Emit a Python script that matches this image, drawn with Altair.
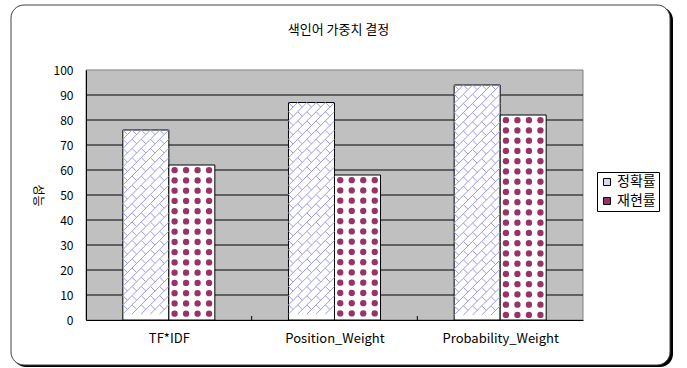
import json
import altair as alt
import pandas as pd

# ---------------- data ----------------
categories = ["TF*IDF", "Position_Weight", "Probability_Weight"]
series = ["정확률", "재현률"]
precision = [76, 87, 94]
recall = [62, 58, 82]
y_ticks = [0, 10, 20, 30, 40, 50, 60, 70, 80, 90, 100]
title_text = "색인어 가중치 결정"
y_title = "성능"

# ---------------- style ----------------
W, H = 497, 250
PAD = {"left": 86, "top": 70, "right": 104, "bottom": 48}
FONT = "Noto Sans CJK KR"
BW = 0.2777          # bar width in category units
NX_P, DY_P = 5, 3.68  # hatch tiles
NX_R, DY_R = 4, 4.1   # dot tiles
LAV = "#9999EE"
MAROON = "#993366"

rows = []
for i, c in enumerate(categories):
    rows.append({"cat": c, "idx": i, "series": series[0], "sidx": 0, "value": precision[i]})
    rows.append({"cat": c, "idx": i, "series": series[1], "sidx": 1, "value": recall[i]})
df = pd.DataFrame(rows)

xscale = alt.Scale(domain=[0, len(categories)], nice=False, zero=False)
yscale = alt.Scale(domain=[y_ticks[0], y_ticks[-1]], nice=False)
label_expr = json.dumps(categories) + "[floor(datum.value)]"
xaxis = alt.Axis(values=[i + 0.5 for i in range(len(categories))], labelExpr=label_expr,
                 ticks=False, grid=False, domainColor="black", labelPadding=12,
                 labelFont=FONT, labelFontSize=13, labelColor="black", zindex=1, title=None)
yaxis = alt.Axis(values=y_ticks, ticks=False, grid=False, domainColor="black", labelPadding=13,
                 labelFont=FONT, labelFontSize=12, labelColor="black", zindex=1,
                 title=y_title, titleAngle=90, titleFont=FONT, titleFontSize=12,
                 titleFontWeight="normal", titleColor="black",
                 titleX=-49, titleY=H / 2, titleAlign="center", titleBaseline="middle")

def X(f):
    return alt.X(f, type="quantitative", scale=xscale, axis=xaxis)

def Y(f):
    return alt.Y(f, type="quantitative", scale=yscale, axis=yaxis)

one = pd.DataFrame({"k": [0]})

shadow = alt.Chart(one).mark_rect(fill="black", cornerRadius=13).encode(
    x=alt.value(-73), x2=alt.value(587), y=alt.value(-63), y2=alt.value(297))
frame = alt.Chart(one).mark_rect(fill="white", stroke="#404040", strokeWidth=1, cornerRadius=13).encode(
    x=alt.value(-75), x2=alt.value(584), y=alt.value(-65), y2=alt.value(295))
title = alt.Chart(one).mark_text(text=title_text, font=FONT, fontSize=13, color="black",
                                 align="center", baseline="middle").encode(
    x=alt.value(W / 2 + 4), y=alt.value(-40))
plotbg = alt.Chart(one).mark_rect(fill="#C0C0C0", stroke="#808080", strokeWidth=1).encode(
    x=alt.value(0), x2=alt.value(W), y=alt.value(0), y2=alt.value(H))

grid = alt.Chart(pd.DataFrame({"t": y_ticks[1:-1]})).mark_rule(color="black", strokeWidth=1).encode(
    x=alt.value(0), x2=alt.value(W), y=Y("t:Q"))

base = alt.Chart(df).transform_calculate(
    x0=f"datum.idx + 0.5 + (datum.sidx - 1) * {BW}",
    x1=f"datum.idx + 0.5 + datum.sidx * {BW}",
    zero="0",
)

bars = base.mark_rect(fill="white", stroke="black", strokeWidth=1).encode(
    x=X("x0:Q"), x2="x1:Q", y=Y("zero:Q"), y2="value:Q")

hatch = base.transform_filter("datum.sidx == 0").transform_calculate(
    col=f"sequence(0, {NX_P})").transform_flatten(["col"]).transform_calculate(
    row="sequence(0, 40)").transform_flatten(["row"]).transform_calculate(
    px=f"datum.x0 + (datum.col + 0.5) * {BW / NX_P}",
    py=f"datum.value - (datum.row + 0.5) * {DY_P}",
).transform_filter(f"datum.py - {DY_P / 2} >= 0").mark_point(
    shape="M-1,1L1,-1M0,0L-1,-1", filled=False, stroke=LAV, strokeWidth=1,
    size=(46 / NX_P) ** 2, opacity=1).encode(x=X("px:Q"), y=Y("py:Q"))

dots = base.transform_filter("datum.sidx == 1").transform_calculate(
    col=f"sequence(0, {NX_R})").transform_flatten(["col"]).transform_calculate(
    row="sequence(0, 40)").transform_flatten(["row"]).transform_calculate(
    px=f"datum.x0 + (datum.col + 0.5) * {BW / NX_R}",
    py=f"datum.value - (datum.row + 0.5) * {DY_R}",
).transform_filter("datum.py - 1.3 >= 0").mark_point(
    shape="circle", filled=True, fill=MAROON, size=40, opacity=1).encode(
    x=X("px:Q"), y=Y("py:Q"))

xticks = alt.Chart(pd.DataFrame({"b": list(range(1, len(categories)))})).mark_rule(
    color="black", strokeWidth=1).encode(x=X("b:Q"), y=alt.value(H), y2=alt.value(H - 4))

legend_layer = base.mark_square(opacity=0, size=1).encode(
    x=X("x0:Q"), y=Y("value:Q"),
    color=alt.Color("series:N", scale=alt.Scale(domain=series, range=["#D8D8F4", MAROON]),
                    legend=alt.Legend(orient="none", legendX=511, legendY=102, title=None,
                                      fillColor="white", strokeColor="black", padding=3,
                                      symbolType="square", symbolSize=49, symbolOpacity=1,
                                      symbolStrokeColor="black", symbolStrokeWidth=1,
                                      labelFont=FONT, labelFontSize=14, labelColor="black",
                                      rowPadding=5, labelOffset=3)))

chart = alt.layer(shadow, frame, title, plotbg, grid, bars, hatch, dots, xticks, legend_layer).properties(
    width=W, height=H,
    autosize=alt.AutoSizeParams(type="none"),
    padding=PAD,
).configure_view(stroke=None).configure(background="white")

chart.save("out.html", embed_options={"renderer": "svg", "actions": False})
